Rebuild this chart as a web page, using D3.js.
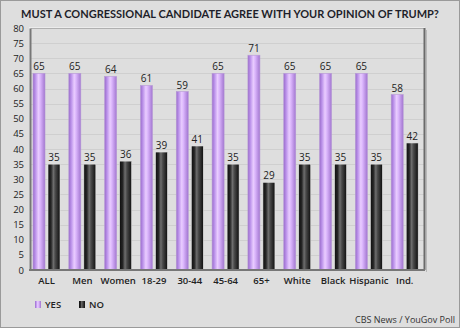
<!DOCTYPE html>
<html><head><meta charset="utf-8">
<script src="https://cdn.jsdelivr.net/npm/d3@7"></script>
<style>body{margin:0;background:#dedede;}svg{display:block;font-family:"Open Sans",sans-serif;}</style>
</head><body><svg id="c" width="460" height="328"></svg>
<script>
const categories = ["ALL","Men","Women","18-29","30-44","45-64","65+","White","Black","Hispanic","Ind."];
const yesValues = [65,65,64,61,59,65,71,65,65,65,58];
const noValues  = [35,35,36,39,41,35,29,35,35,35,42];
const yTicks = [0,5,10,15,20,25,30,35,40,45,50,55,60,65,70,75,80];
const seriesNames = ["YES","NO"];
const title = "MUST A CONGRESSIONAL CANDIDATE AGREE WITH YOUR OPINION OF TRUMP?";
const source = "CBS News / YouGov Poll";

(function(){
const svg = d3.select("#c");
const W = 460, H = 328;
const defs = svg.append("defs");
function grad(id, stops){
  const g = defs.append("linearGradient").attr("id", id).attr("x1","0%").attr("x2","100%").attr("y1","0%").attr("y2","0%");
  stops.forEach(s => g.append("stop").attr("offset", s[0]).attr("stop-color", s[1]));
}
grad("gYes", [["0%","#9a6ccb"],["20%","#bb92ea"],["45%","#e9ccff"],["60%","#dbb6fc"],["100%","#a276d0"]]);
grad("gNo", [["0%","#0e0e0e"],["25%","#262626"],["45%","#6e6e6e"],["60%","#4a4a4a"],["100%","#0e0e0e"]]);

svg.append("rect").attr("x",0.5).attr("y",0.5).attr("width",W-1).attr("height",H-1)
  .attr("fill","#dedede").attr("stroke","#9a9a9a");

const pL = 30, pR = 424, pT = 28, pB = 270;
const y = d3.scaleLinear().domain([0,80]).range([pB, pT]);
const x0 = d3.scaleBand().domain(categories).range([pL, pR]).padding(0);
const bw = x0.bandwidth();
const x1 = d3.scaleBand().domain(seriesNames).range([bw*0.084, bw*0.838]).paddingInner(0.2).paddingOuter(0);

svg.append("g").selectAll("line").data(yTicks.filter(d=>d>0 && d<80)).join("line")
  .attr("x1", pL).attr("x2", pR).attr("y1", d=>Math.round(y(d))+0.5).attr("y2", d=>Math.round(y(d))+0.5)
  .attr("stroke","#cfcfcf").attr("stroke-width",1);

svg.append("rect").attr("x",pL-0.5).attr("y",pT-0.5).attr("width",pR-pL+1).attr("height",pB-pT+1)
  .attr("fill","none").attr("stroke","#ececec").attr("stroke-width",1);
svg.append("line").attr("x1",pL+1).attr("x2",pR+0.5).attr("y1",pT+0.5).attr("y2",pT+0.5).attr("stroke","#b0b0b0");
svg.append("line").attr("x1",pR+0.5).attr("x2",pR+0.5).attr("y1",pT).attr("y2",pB).attr("stroke","#6a6a6a").attr("stroke-width",2);
svg.append("line").attr("x1",pR+2.5).attr("x2",pR+2.5).attr("y1",pT+2).attr("y2",pB+2).attr("stroke","#b8b8b8").attr("stroke-width",1);

const yAxis = d3.axisLeft(y).tickValues(yTicks).tickSize(0).tickPadding(6);
const ya = svg.append("g").attr("transform",`translate(${pL},0)`).call(yAxis);
ya.select(".domain").attr("stroke","#777").attr("stroke-width",2);
ya.selectAll("text").attr("font-size",9.5).attr("fill","#222").attr("font-family","'Open Sans',sans-serif");

const data = categories.map((c,i)=>({cat:c, vals:[{k:"YES",v:yesValues[i]},{k:"NO",v:noValues[i]}]}));
const groups = svg.append("g").selectAll("g").data(data).join("g")
  .attr("transform", d=>`translate(${x0(d.cat)},0)`);
groups.selectAll("rect").data(d=>d.vals).join("rect")
  .attr("x", d=>x1(d.k)).attr("width", x1.bandwidth())
  .attr("y", d=>y(d.v)).attr("height", d=>pB - y(d.v))
  .attr("fill", d=>d.k==="YES" ? "url(#gYes)" : "url(#gNo)")
  .attr("stroke", d=>d.k==="YES" ? "#b79ad6" : "#e8e8e8").attr("stroke-width",0.6);
groups.selectAll("text").data(d=>d.vals).join("text")
  .attr("x", d=>x1(d.k)+x1.bandwidth()/2).attr("y", d=>y(d.v)-3)
  .attr("text-anchor","middle").attr("font-size",10).attr("fill","#222").text(d=>d.v);

const xAxis = d3.axisBottom(x0).tickSize(0).tickPadding(7);
const xa = svg.append("g").attr("transform",`translate(0,${pB})`).call(xAxis);
xa.select(".domain").attr("stroke","#777").attr("stroke-width",2).attr("d",`M${pL-1},0H${pR+1}`);
xa.selectAll("text").attr("font-size",9.5).attr("font-weight",600).attr("fill","#222").attr("font-family","'Open Sans',sans-serif")
  .attr("dx", (x1("YES")+x1("NO")+x1.bandwidth())/2 - bw/2);

svg.append("text").attr("x",230).attr("y",18).attr("text-anchor","middle")
  .attr("font-family","Lato, sans-serif")
  .attr("font-size",11).attr("font-weight",700).attr("fill","#1e1e2a").text(title);

const legX = [35, 79];
const leg = svg.append("g").selectAll("g").data(seriesNames).join("g")
  .attr("transform",(d,i)=>`translate(${legX[i]},301)`);
leg.append("rect").attr("width",6).attr("height",7).attr("fill",(d,i)=>i===0?"url(#gYes)":"url(#gNo)");
leg.append("text").attr("x",10).attr("y",7).attr("font-size",9.5).attr("font-weight",600).attr("fill","#222").text(d=>d);

svg.append("text").attr("x",455).attr("y",323).attr("text-anchor","end")
  .attr("font-size",9).attr("fill","#333").text(source);
})();
</script></body></html>
